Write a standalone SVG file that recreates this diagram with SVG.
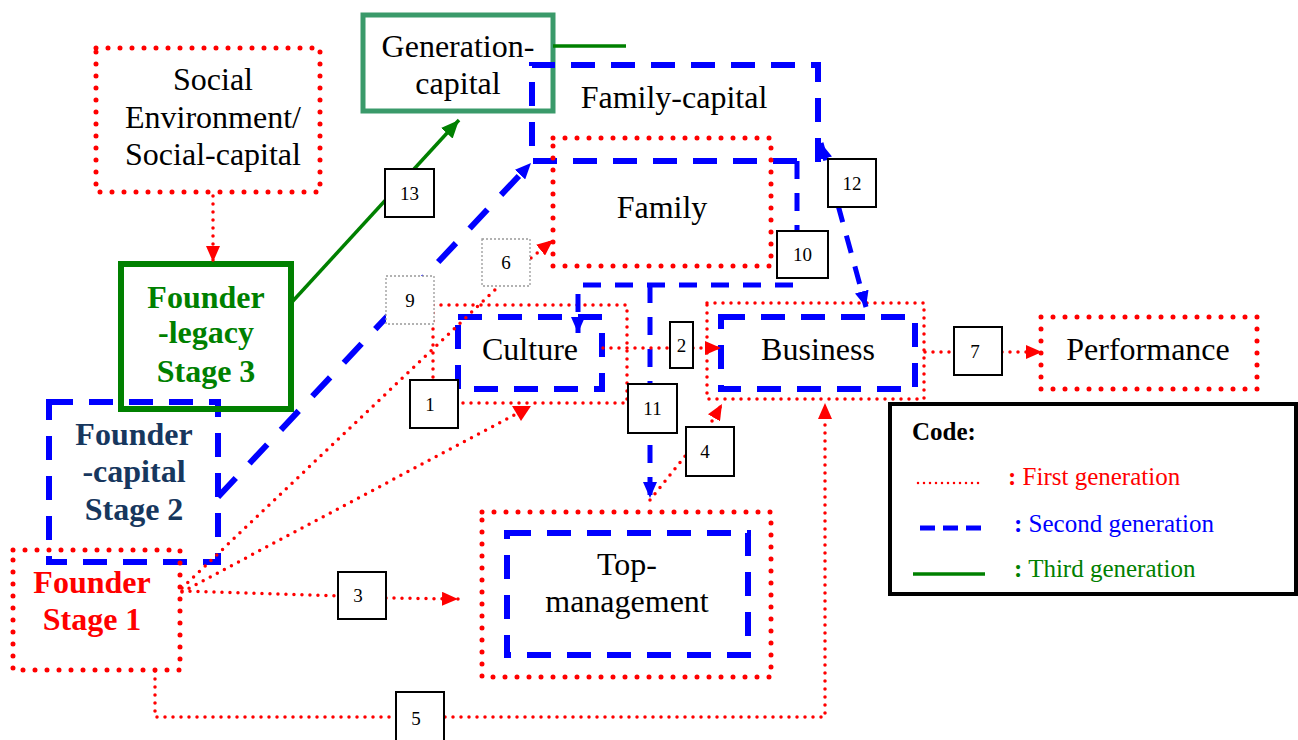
<svg xmlns="http://www.w3.org/2000/svg" width="1298" height="740" viewBox="0 0 1298 740">
<defs>
<marker id="mr" viewBox="0 0 16 14" refX="16" refY="7" markerWidth="16" markerHeight="14" markerUnits="userSpaceOnUse" orient="auto"><path d="M0,0 L16,7 L0,14 z" fill="#f00"/></marker>
<marker id="mb" viewBox="0 0 16 14" refX="16" refY="7" markerWidth="16" markerHeight="14" markerUnits="userSpaceOnUse" orient="auto-start-reverse"><path d="M0,0 L16,7 L0,14 z" fill="#00f"/></marker>
<marker id="mg" viewBox="0 0 16 14" refX="16" refY="7" markerWidth="18" markerHeight="16" markerUnits="userSpaceOnUse" orient="auto"><path d="M0,0 L16,7 L0,14 z" fill="#008000"/></marker>
<style>
.t{font-family:"Liberation Serif","Times New Roman",serif;font-size:32px;fill:#000;text-anchor:middle}
.b{font-weight:bold}
.n{font-size:19px}
.lg{font-family:"Liberation Serif","Times New Roman",serif;font-size:25px}
.dotN{fill:none;stroke:#f00;stroke-width:5;stroke-dasharray:0 12;stroke-linecap:round}
.dotS{fill:none;stroke:#f00;stroke-width:3.5;stroke-dasharray:0 8;stroke-linecap:round}
.dashN{fill:none;stroke:#00f;stroke-width:6;stroke-dasharray:24 16}
.dashC{fill:none;stroke:#00f;stroke-width:5;stroke-dasharray:18 14}
.nb{fill:#fff;stroke:#000;stroke-width:2}
.gb{fill:#fff;stroke:#999;stroke-width:1.3;stroke-dasharray:2 2}
</style>
</defs>
<rect width="1298" height="740" fill="#fff"/>

<g id="social">
<rect class="dotN" x="96" y="48" width="224" height="144"/>
<text class="t" x="213" y="90">Social</text>
<text class="t" x="213" y="128">Environment/</text>
<text class="t" x="213" y="165">Social-capital</text>
</g>

<g id="generation-capital">
<rect x="363" y="15" width="190" height="96" fill="none" stroke="#3a9a6a" stroke-width="5"/>
<text class="t" x="458" y="57">Generation-</text>
<text class="t" x="458" y="94">capital</text>
</g>

<g id="family-capital">
<path class="dashN" d="M797,161 L532,161 L532,65 L818,65 L818,162"/>
<text class="t" x="674" y="108">Family-capital</text>
</g>

<g id="family">
<rect class="dotN" x="553" y="138" width="218" height="128"/>
<text class="t" x="662" y="218">Family</text>
</g>

<g id="culture">
<rect class="dotS" x="433" y="305" width="194" height="98"/>
<rect class="dashN" x="458" y="317" width="144" height="72"/>
<text class="t" x="530" y="360">Culture</text>
</g>

<g id="business">
<rect class="dotS" x="707" y="303" width="217" height="96"/>
<rect class="dashN" x="721" y="317" width="194" height="72"/>
<text class="t" x="818" y="360">Business</text>
</g>

<g id="performance">
<rect class="dotN" x="1041" y="317" width="216" height="72"/>
<text class="t" x="1148" y="360">Performance</text>
</g>

<g id="top-management">
<rect class="dotN" x="482" y="512" width="289" height="165"/>
<rect class="dashN" x="507" y="533" width="241" height="122"/>
<text class="t" x="627" y="575">Top-</text>
<text class="t" x="627" y="612">management</text>
</g>

<g id="founder-capital">
<rect class="dashN" x="49" y="402" width="169" height="160"/>
<text class="t b" x="134" y="445" fill="#17375e" style="fill:#17375e">Founder</text>
<text class="t b" x="134" y="482" style="fill:#17375e">-capital</text>
<text class="t b" x="134" y="520" style="fill:#17375e">Stage 2</text>
</g>

<g id="founder-legacy">
<rect x="121" y="264" width="170" height="145" fill="none" stroke="#008000" stroke-width="6"/>
<text class="t b" x="206" y="308" style="fill:#008000">Founder</text>
<text class="t b" x="206" y="343" style="fill:#008000">-legacy</text>
<text class="t b" x="206" y="382" style="fill:#008000">Stage 3</text>
</g>

<g id="founder-stage1">
<rect class="dotN" x="13" y="550" width="167" height="120"/>
<text class="t b" x="92" y="593" style="fill:#f00">Founder</text>
<text class="t b" x="92" y="630" style="fill:#f00">Stage 1</text>
</g>

<g id="connectors">
<path class="dotS" d="M213,196 L213,262" marker-end="url(#mr)"/>
<path d="M292,302 L459,120" fill="none" stroke="#008000" stroke-width="3.5" marker-end="url(#mg)"/>
<path d="M553,46 L626,46" fill="none" stroke="#008000" stroke-width="3.5"/>
<path d="M218,497 L531,163" fill="none" stroke="#00f" stroke-width="6" stroke-dasharray="26 20" marker-end="url(#mb)"/>
<path class="dotS" d="M182,588 L498,287"/>
<path class="dotS" d="M531,258 L553,240" marker-end="url(#mr)"/>
<path class="dotS" d="M182,592 L516,414"/>
<path d="M512,406 L531,406 L521,421 z" fill="#f00"/>
<path class="dotS" d="M182,591 L338,596"/>
<path class="dotS" d="M386,598 L458,599" marker-end="url(#mr)"/>
<path class="dotS" d="M155,671 L155,717 L825,717 L825,403" marker-end="url(#mr)"/>
<path class="dashC" d="M797,161 L797,285 L578,285 L578,333" marker-end="url(#mb)"/>
<path class="dashC" d="M650,285 L650,498" marker-end="url(#mb)"/>
<path class="dashC" d="M821,143 L866,307" marker-start="url(#mb)" marker-end="url(#mb)"/>
<path class="dotS" d="M603,348 L670,348"/>
<path class="dotS" d="M693,348 L721,348" marker-end="url(#mr)"/>
<path class="dotS" d="M650,500 L686,455"/>
<path class="dotS" d="M708,428 L722,404" marker-end="url(#mr)"/>
<path class="dotS" d="M925,352 L954,352"/>
<path class="dotS" d="M1002,352 L1042,352" marker-end="url(#mr)"/>
</g>

<g id="labels">
<rect class="nb" x="385" y="169" width="49" height="48"/><text class="t n" x="409.5" y="200">13</text>
<rect class="gb" x="386" y="276" width="48" height="48"/><text class="t n" x="410" y="307">9</text>
<rect class="gb" x="482" y="239" width="48" height="47"/><text class="t n" x="506" y="269">6</text>
<rect class="nb" x="410" y="380" width="48" height="48"/><text class="t n" x="430" y="411">1</text>
<rect class="nb" x="670" y="322" width="23" height="46"/><text class="t n" x="681.5" y="352">2</text>
<rect class="nb" x="777" y="231" width="51" height="47"/><text class="t n" x="802.5" y="261">10</text>
<rect class="nb" x="828" y="159" width="48" height="48"/><text class="t n" x="852" y="190">12</text>
<rect class="nb" x="628" y="384" width="49" height="49"/><text class="t n" x="652.5" y="415">11</text>
<rect class="nb" x="686" y="427" width="48" height="49"/><text class="t n" x="705" y="458">4</text>
<rect class="nb" x="338" y="572" width="48" height="47"/><text class="t n" x="358" y="602">3</text>
<rect class="nb" x="396" y="692" width="48" height="50"/><text class="t n" x="416" y="725">5</text>
<rect class="nb" x="954" y="327" width="48" height="48"/><text class="t n" x="975" y="358">7</text>
</g>

<g id="legend">
<rect x="890" y="404" width="406" height="190" fill="none" stroke="#000" stroke-width="4"/>
<text class="lg" x="912" y="440" font-weight="bold" font-size="26">Code:</text>
<path d="M918,483 L982,483" stroke="#f00" stroke-width="2.5" stroke-dasharray="0 6" stroke-linecap="round" fill="none"/>
<text class="lg" x="1008" y="485" fill="#f00"><tspan font-weight="bold">:</tspan> First generation</text>
<path d="M920,528 L985,528" stroke="#00f" stroke-width="5" stroke-dasharray="15 8" fill="none"/>
<text class="lg" x="1014" y="532" fill="#00f"><tspan font-weight="bold">:</tspan> Second generation</text>
<path d="M913,574 L985,574" stroke="#008000" stroke-width="3.5" fill="none"/>
<text class="lg" x="1014" y="577" fill="#008000"><tspan font-weight="bold">:</tspan> Third generation</text>
</g>
</svg>
